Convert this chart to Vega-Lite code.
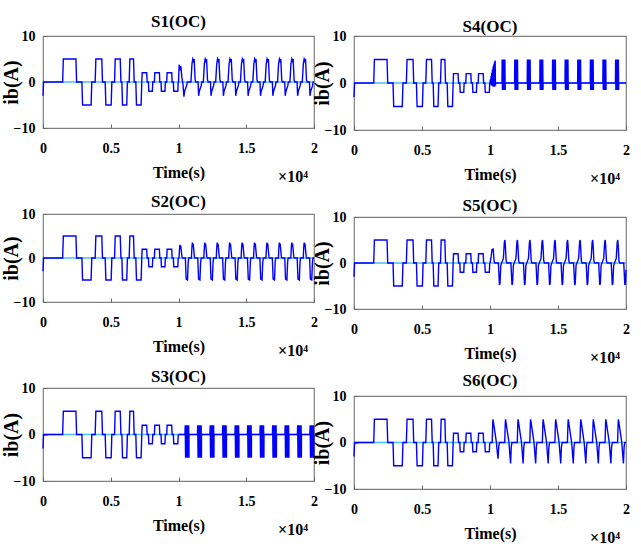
{
"$schema":"https://vega.github.io/schema/vega-lite/v6.json",
"background":"white",
"padding":{"left":0,"top":12,"right":0,"bottom":0},
"datasets":{
"common":[{"t":0,"v":-3},{"t":40,"v":0},{"t":1450,"v":0},{"t":1500,"v":5},{"t":2430,"v":5},{"t":2480,"v":0},{"t":2870,"v":0},{"t":2920,"v":-5},{"t":3550,"v":-5},{"t":3600,"v":0},{"t":3850,"v":0},{"t":3900,"v":5},{"t":4340,"v":5},{"t":4390,"v":0},{"t":4590,"v":0},{"t":4640,"v":-5},{"t":5030,"v":-5},{"t":5080,"v":0},{"t":5280,"v":0},{"t":5330,"v":5},{"t":5700,"v":5},{"t":5750,"v":0},{"t":5820,"v":0},{"t":5870,"v":-5},{"t":6180,"v":-5},{"t":6230,"v":0},{"t":6360,"v":0},{"t":6410,"v":5},{"t":6680,"v":5},{"t":6730,"v":0},{"t":6850,"v":0},{"t":6900,"v":-5},{"t":7240,"v":-5},{"t":7290,"v":0},{"t":7320,"v":2},{"t":7650,"v":2},{"t":7690,"v":0},{"t":7780,"v":0},{"t":7810,"v":-2},{"t":8070,"v":-2},{"t":8100,"v":0},{"t":8220,"v":0},{"t":8250,"v":2},{"t":8590,"v":2},{"t":8620,"v":0},{"t":8710,"v":0},{"t":8740,"v":-2},{"t":9000,"v":-2},{"t":9030,"v":0},{"t":9130,"v":0},{"t":9160,"v":2},{"t":9500,"v":2},{"t":9530,"v":0},{"t":9620,"v":0},{"t":9650,"v":-2},{"t":9950,"v":-2},{"t":9980,"v":0}],
"s1":[{"t":10000,"v":0},{"t":10050,"v":3.8},{"t":10110,"v":2.5},{"t":10170,"v":3.5},{"t":10250,"v":1},{"t":10330,"v":-0.5},{"t":10400,"v":-3.2},{"t":10450,"v":-2},{"t":10600,"v":-0.8},{"t":10650,"v":0},
{"t":10917,"v":0},{"t":10997,"v":4},{"t":11057,"v":5},{"t":11117,"v":4.5},{"t":11157,"v":5},{"t":11227,"v":0.5},{"t":11277,"v":0},{"t":11447,"v":0},{"t":11487,"v":-3},{"t":11537,"v":-2},{"t":11677,"v":-0.8},{"t":11717,"v":0},
{"t":11830,"v":0},{"t":11910,"v":4},{"t":11970,"v":5},{"t":12030,"v":4.5},{"t":12070,"v":5},{"t":12140,"v":0.5},{"t":12190,"v":0},{"t":12360,"v":0},{"t":12400,"v":-3},{"t":12450,"v":-2},{"t":12590,"v":-0.8},{"t":12630,"v":0},
{"t":12743,"v":0},{"t":12823,"v":4},{"t":12883,"v":5},{"t":12943,"v":4.5},{"t":12983,"v":5},{"t":13053,"v":0.5},{"t":13103,"v":0},{"t":13273,"v":0},{"t":13313,"v":-3},{"t":13363,"v":-2},{"t":13503,"v":-0.8},{"t":13543,"v":0},
{"t":13656,"v":0},{"t":13736,"v":4},{"t":13796,"v":5},{"t":13856,"v":4.5},{"t":13896,"v":5},{"t":13966,"v":0.5},{"t":14016,"v":0},{"t":14186,"v":0},{"t":14226,"v":-3},{"t":14276,"v":-2},{"t":14416,"v":-0.8},{"t":14456,"v":0},
{"t":14569,"v":0},{"t":14649,"v":4},{"t":14709,"v":5},{"t":14769,"v":4.5},{"t":14809,"v":5},{"t":14879,"v":0.5},{"t":14929,"v":0},{"t":15099,"v":0},{"t":15139,"v":-3},{"t":15189,"v":-2},{"t":15329,"v":-0.8},{"t":15369,"v":0},
{"t":15482,"v":0},{"t":15562,"v":4},{"t":15622,"v":5},{"t":15682,"v":4.5},{"t":15722,"v":5},{"t":15792,"v":0.5},{"t":15842,"v":0},{"t":16012,"v":0},{"t":16052,"v":-3},{"t":16102,"v":-2},{"t":16242,"v":-0.8},{"t":16282,"v":0},
{"t":16395,"v":0},{"t":16475,"v":4},{"t":16535,"v":5},{"t":16595,"v":4.5},{"t":16635,"v":5},{"t":16705,"v":0.5},{"t":16755,"v":0},{"t":16925,"v":0},{"t":16965,"v":-3},{"t":17015,"v":-2},{"t":17155,"v":-0.8},{"t":17195,"v":0},
{"t":17308,"v":0},{"t":17388,"v":4},{"t":17448,"v":5},{"t":17508,"v":4.5},{"t":17548,"v":5},{"t":17618,"v":0.5},{"t":17668,"v":0},{"t":17838,"v":0},{"t":17878,"v":-3},{"t":17928,"v":-2},{"t":18068,"v":-0.8},{"t":18108,"v":0},
{"t":18221,"v":0},{"t":18301,"v":4},{"t":18361,"v":5},{"t":18421,"v":4.5},{"t":18461,"v":5},{"t":18531,"v":0.5},{"t":18581,"v":0},{"t":18751,"v":0},{"t":18791,"v":-3},{"t":18841,"v":-2},{"t":18981,"v":-0.8},{"t":19021,"v":0},
{"t":19134,"v":0},{"t":19214,"v":4},{"t":19274,"v":5},{"t":19334,"v":4.5},{"t":19374,"v":5},{"t":19444,"v":0.5},{"t":19494,"v":0},{"t":19664,"v":0},{"t":19704,"v":-3},{"t":19754,"v":-2},{"t":19894,"v":-0.8},{"t":19934,"v":0},{"t":20000,"v":0}],
"s2":[{"t":10000,"v":0},
{"t":10035,"v":0},{"t":10075,"v":2},{"t":10105,"v":3},{"t":10135,"v":2.4},{"t":10165,"v":2.8},{"t":10255,"v":0.3},{"t":10295,"v":0},{"t":10505,"v":0},{"t":10565,"v":-4.8},{"t":10665,"v":-5},{"t":10715,"v":-1},{"t":10755,"v":0},
{"t":10952,"v":0},{"t":10992,"v":2.5},{"t":11022,"v":3.5},{"t":11052,"v":2.8},{"t":11082,"v":3.3},{"t":11172,"v":0.3},{"t":11212,"v":0},{"t":11422,"v":0},{"t":11482,"v":-4.8},{"t":11582,"v":-5},{"t":11632,"v":-1},{"t":11672,"v":0},
{"t":11869,"v":0},{"t":11909,"v":2.5},{"t":11939,"v":3.5},{"t":11969,"v":2.8},{"t":11999,"v":3.3},{"t":12089,"v":0.3},{"t":12129,"v":0},{"t":12339,"v":0},{"t":12399,"v":-4.8},{"t":12499,"v":-5},{"t":12549,"v":-1},{"t":12589,"v":0},
{"t":12786,"v":0},{"t":12826,"v":2.5},{"t":12856,"v":3.5},{"t":12886,"v":2.8},{"t":12916,"v":3.3},{"t":13006,"v":0.3},{"t":13046,"v":0},{"t":13256,"v":0},{"t":13316,"v":-4.8},{"t":13416,"v":-5},{"t":13466,"v":-1},{"t":13506,"v":0},
{"t":13703,"v":0},{"t":13743,"v":2.5},{"t":13773,"v":3.5},{"t":13803,"v":2.8},{"t":13833,"v":3.3},{"t":13923,"v":0.3},{"t":13963,"v":0},{"t":14173,"v":0},{"t":14233,"v":-4.8},{"t":14333,"v":-5},{"t":14383,"v":-1},{"t":14423,"v":0},
{"t":14620,"v":0},{"t":14660,"v":2.5},{"t":14690,"v":3.5},{"t":14720,"v":2.8},{"t":14750,"v":3.3},{"t":14840,"v":0.3},{"t":14880,"v":0},{"t":15090,"v":0},{"t":15150,"v":-4.8},{"t":15250,"v":-5},{"t":15300,"v":-1},{"t":15340,"v":0},
{"t":15537,"v":0},{"t":15577,"v":2.5},{"t":15607,"v":3.5},{"t":15637,"v":2.8},{"t":15667,"v":3.3},{"t":15757,"v":0.3},{"t":15797,"v":0},{"t":16007,"v":0},{"t":16067,"v":-4.8},{"t":16167,"v":-5},{"t":16217,"v":-1},{"t":16257,"v":0},
{"t":16454,"v":0},{"t":16494,"v":2.5},{"t":16524,"v":3.5},{"t":16554,"v":2.8},{"t":16584,"v":3.3},{"t":16674,"v":0.3},{"t":16714,"v":0},{"t":16924,"v":0},{"t":16984,"v":-4.8},{"t":17084,"v":-5},{"t":17134,"v":-1},{"t":17174,"v":0},
{"t":17371,"v":0},{"t":17411,"v":2.5},{"t":17441,"v":3.5},{"t":17471,"v":2.8},{"t":17501,"v":3.3},{"t":17591,"v":0.3},{"t":17631,"v":0},{"t":17841,"v":0},{"t":17901,"v":-4.8},{"t":18001,"v":-5},{"t":18051,"v":-1},{"t":18091,"v":0},
{"t":18288,"v":0},{"t":18328,"v":2.5},{"t":18358,"v":3.5},{"t":18388,"v":2.8},{"t":18418,"v":3.3},{"t":18508,"v":0.3},{"t":18548,"v":0},{"t":18758,"v":0},{"t":18818,"v":-4.8},{"t":18918,"v":-5},{"t":18968,"v":-1},{"t":19008,"v":0},
{"t":19205,"v":0},{"t":19245,"v":2.5},{"t":19275,"v":3.5},{"t":19305,"v":2.8},{"t":19335,"v":3.3},{"t":19425,"v":0.3},{"t":19465,"v":0},{"t":19675,"v":0},{"t":19735,"v":-4.8},{"t":19835,"v":-5},{"t":19885,"v":-1},{"t":19925,"v":0},{"t":20000,"v":0}],
"s3":[{"t":10000,"v":0},
{"t":10477,"v":0},{"t":10497,"v":2},{"t":10522,"v":-5},{"t":10547,"v":2},{"t":10572,"v":-5},{"t":10597,"v":2},{"t":10622,"v":-5},{"t":10647,"v":2},{"t":10672,"v":-5},{"t":10697,"v":2},{"t":10722,"v":-5},{"t":10747,"v":2},{"t":10772,"v":-5},{"t":10777,"v":0},
{"t":11399,"v":0},{"t":11419,"v":2},{"t":11444,"v":-5},{"t":11469,"v":2},{"t":11494,"v":-5},{"t":11519,"v":2},{"t":11544,"v":-5},{"t":11569,"v":2},{"t":11594,"v":-5},{"t":11619,"v":2},{"t":11644,"v":-5},{"t":11669,"v":2},{"t":11694,"v":-5},{"t":11699,"v":0},
{"t":12321,"v":0},{"t":12341,"v":2},{"t":12366,"v":-5},{"t":12391,"v":2},{"t":12416,"v":-5},{"t":12441,"v":2},{"t":12466,"v":-5},{"t":12491,"v":2},{"t":12516,"v":-5},{"t":12541,"v":2},{"t":12566,"v":-5},{"t":12591,"v":2},{"t":12616,"v":-5},{"t":12621,"v":0},
{"t":13243,"v":0},{"t":13263,"v":2},{"t":13288,"v":-5},{"t":13313,"v":2},{"t":13338,"v":-5},{"t":13363,"v":2},{"t":13388,"v":-5},{"t":13413,"v":2},{"t":13438,"v":-5},{"t":13463,"v":2},{"t":13488,"v":-5},{"t":13513,"v":2},{"t":13538,"v":-5},{"t":13543,"v":0},
{"t":14165,"v":0},{"t":14185,"v":2},{"t":14210,"v":-5},{"t":14235,"v":2},{"t":14260,"v":-5},{"t":14285,"v":2},{"t":14310,"v":-5},{"t":14335,"v":2},{"t":14360,"v":-5},{"t":14385,"v":2},{"t":14410,"v":-5},{"t":14435,"v":2},{"t":14460,"v":-5},{"t":14465,"v":0},
{"t":15087,"v":0},{"t":15107,"v":2},{"t":15132,"v":-5},{"t":15157,"v":2},{"t":15182,"v":-5},{"t":15207,"v":2},{"t":15232,"v":-5},{"t":15257,"v":2},{"t":15282,"v":-5},{"t":15307,"v":2},{"t":15332,"v":-5},{"t":15357,"v":2},{"t":15382,"v":-5},{"t":15387,"v":0},
{"t":16009,"v":0},{"t":16029,"v":2},{"t":16054,"v":-5},{"t":16079,"v":2},{"t":16104,"v":-5},{"t":16129,"v":2},{"t":16154,"v":-5},{"t":16179,"v":2},{"t":16204,"v":-5},{"t":16229,"v":2},{"t":16254,"v":-5},{"t":16279,"v":2},{"t":16304,"v":-5},{"t":16309,"v":0},
{"t":16931,"v":0},{"t":16951,"v":2},{"t":16976,"v":-5},{"t":17001,"v":2},{"t":17026,"v":-5},{"t":17051,"v":2},{"t":17076,"v":-5},{"t":17101,"v":2},{"t":17126,"v":-5},{"t":17151,"v":2},{"t":17176,"v":-5},{"t":17201,"v":2},{"t":17226,"v":-5},{"t":17231,"v":0},
{"t":17853,"v":0},{"t":17873,"v":2},{"t":17898,"v":-5},{"t":17923,"v":2},{"t":17948,"v":-5},{"t":17973,"v":2},{"t":17998,"v":-5},{"t":18023,"v":2},{"t":18048,"v":-5},{"t":18073,"v":2},{"t":18098,"v":-5},{"t":18123,"v":2},{"t":18148,"v":-5},{"t":18153,"v":0},
{"t":18775,"v":0},{"t":18795,"v":2},{"t":18820,"v":-5},{"t":18845,"v":2},{"t":18870,"v":-5},{"t":18895,"v":2},{"t":18920,"v":-5},{"t":18945,"v":2},{"t":18970,"v":-5},{"t":18995,"v":2},{"t":19020,"v":-5},{"t":19045,"v":2},{"t":19070,"v":-5},{"t":19075,"v":0},
{"t":19697,"v":0},{"t":19717,"v":2},{"t":19742,"v":-5},{"t":19767,"v":2},{"t":19792,"v":-5},{"t":19817,"v":2},{"t":19842,"v":-5},{"t":19867,"v":2},{"t":19892,"v":-5},{"t":19917,"v":2},{"t":19942,"v":-5},{"t":19967,"v":2},{"t":19992,"v":-5},{"t":19997,"v":0},{"t":20000,"v":0}],
"s4":[{"t":10000,"v":0},{"t":10030,"v":0.8},{"t":10050,"v":-0.3},{"t":10080,"v":1.5},{"t":10100,"v":-0.5},{"t":10130,"v":2.2},{"t":10150,"v":-0.6},{"t":10180,"v":2.9},{"t":10200,"v":-0.7},{"t":10230,"v":3.5},{"t":10250,"v":-0.8},{"t":10280,"v":4},{"t":10300,"v":-0.8},{"t":10330,"v":4.5},{"t":10350,"v":-0.8},{"t":10380,"v":4.8},{"t":10400,"v":-0.5},{"t":10430,"v":0},
{"t":10880,"v":0},{"t":10895,"v":5},{"t":10915,"v":-1.5},{"t":10935,"v":5},{"t":10955,"v":-1.5},{"t":10975,"v":5},{"t":10995,"v":-1.5},{"t":11015,"v":5},{"t":11035,"v":-1.5},{"t":11055,"v":5},{"t":11075,"v":-1.5},{"t":11095,"v":5},{"t":11115,"v":-1.5},{"t":11120,"v":0},
{"t":11807,"v":0},{"t":11822,"v":5},{"t":11842,"v":-1.5},{"t":11862,"v":5},{"t":11882,"v":-1.5},{"t":11902,"v":5},{"t":11922,"v":-1.5},{"t":11942,"v":5},{"t":11962,"v":-1.5},{"t":11982,"v":5},{"t":12002,"v":-1.5},{"t":12022,"v":5},{"t":12042,"v":-1.5},{"t":12047,"v":0},
{"t":12734,"v":0},{"t":12749,"v":5},{"t":12769,"v":-1.5},{"t":12789,"v":5},{"t":12809,"v":-1.5},{"t":12829,"v":5},{"t":12849,"v":-1.5},{"t":12869,"v":5},{"t":12889,"v":-1.5},{"t":12909,"v":5},{"t":12929,"v":-1.5},{"t":12949,"v":5},{"t":12969,"v":-1.5},{"t":12974,"v":0},
{"t":13661,"v":0},{"t":13676,"v":5},{"t":13696,"v":-1.5},{"t":13716,"v":5},{"t":13736,"v":-1.5},{"t":13756,"v":5},{"t":13776,"v":-1.5},{"t":13796,"v":5},{"t":13816,"v":-1.5},{"t":13836,"v":5},{"t":13856,"v":-1.5},{"t":13876,"v":5},{"t":13896,"v":-1.5},{"t":13901,"v":0},
{"t":14588,"v":0},{"t":14603,"v":5},{"t":14623,"v":-1.5},{"t":14643,"v":5},{"t":14663,"v":-1.5},{"t":14683,"v":5},{"t":14703,"v":-1.5},{"t":14723,"v":5},{"t":14743,"v":-1.5},{"t":14763,"v":5},{"t":14783,"v":-1.5},{"t":14803,"v":5},{"t":14823,"v":-1.5},{"t":14828,"v":0},
{"t":15515,"v":0},{"t":15530,"v":5},{"t":15550,"v":-1.5},{"t":15570,"v":5},{"t":15590,"v":-1.5},{"t":15610,"v":5},{"t":15630,"v":-1.5},{"t":15650,"v":5},{"t":15670,"v":-1.5},{"t":15690,"v":5},{"t":15710,"v":-1.5},{"t":15730,"v":5},{"t":15750,"v":-1.5},{"t":15755,"v":0},
{"t":16442,"v":0},{"t":16457,"v":5},{"t":16477,"v":-1.5},{"t":16497,"v":5},{"t":16517,"v":-1.5},{"t":16537,"v":5},{"t":16557,"v":-1.5},{"t":16577,"v":5},{"t":16597,"v":-1.5},{"t":16617,"v":5},{"t":16637,"v":-1.5},{"t":16657,"v":5},{"t":16677,"v":-1.5},{"t":16682,"v":0},
{"t":17369,"v":0},{"t":17384,"v":5},{"t":17404,"v":-1.5},{"t":17424,"v":5},{"t":17444,"v":-1.5},{"t":17464,"v":5},{"t":17484,"v":-1.5},{"t":17504,"v":5},{"t":17524,"v":-1.5},{"t":17544,"v":5},{"t":17564,"v":-1.5},{"t":17584,"v":5},{"t":17604,"v":-1.5},{"t":17609,"v":0},
{"t":18296,"v":0},{"t":18311,"v":5},{"t":18331,"v":-1.5},{"t":18351,"v":5},{"t":18371,"v":-1.5},{"t":18391,"v":5},{"t":18411,"v":-1.5},{"t":18431,"v":5},{"t":18451,"v":-1.5},{"t":18471,"v":5},{"t":18491,"v":-1.5},{"t":18511,"v":5},{"t":18531,"v":-1.5},{"t":18536,"v":0},
{"t":19223,"v":0},{"t":19238,"v":5},{"t":19258,"v":-1.5},{"t":19278,"v":5},{"t":19298,"v":-1.5},{"t":19318,"v":5},{"t":19338,"v":-1.5},{"t":19358,"v":5},{"t":19378,"v":-1.5},{"t":19398,"v":5},{"t":19418,"v":-1.5},{"t":19438,"v":5},{"t":19458,"v":-1.5},{"t":19463,"v":0},{"t":20000,"v":0}],
"s5":[{"t":10000,"v":0},{"t":10080,"v":1.2},{"t":10150,"v":3},{"t":10190,"v":2.6},{"t":10230,"v":3.2},{"t":10300,"v":0.5},{"t":10350,"v":0},
{"t":10615,"v":0},{"t":10695,"v":-4.8},{"t":10735,"v":-4.5},{"t":10795,"v":-0.5},{"t":10895,"v":0.3},{"t":10985,"v":1},{"t":11055,"v":4.5},{"t":11095,"v":5},{"t":11125,"v":4},{"t":11185,"v":0.5},{"t":11235,"v":0},
{"t":11537,"v":0},{"t":11617,"v":-4.8},{"t":11657,"v":-4.5},{"t":11717,"v":-0.5},{"t":11817,"v":0.3},{"t":11907,"v":1},{"t":11977,"v":4.5},{"t":12017,"v":5},{"t":12047,"v":4},{"t":12107,"v":0.5},{"t":12157,"v":0},
{"t":12459,"v":0},{"t":12539,"v":-4.8},{"t":12579,"v":-4.5},{"t":12639,"v":-0.5},{"t":12739,"v":0.3},{"t":12829,"v":1},{"t":12899,"v":4.5},{"t":12939,"v":5},{"t":12969,"v":4},{"t":13029,"v":0.5},{"t":13079,"v":0},
{"t":13381,"v":0},{"t":13461,"v":-4.8},{"t":13501,"v":-4.5},{"t":13561,"v":-0.5},{"t":13661,"v":0.3},{"t":13751,"v":1},{"t":13821,"v":4.5},{"t":13861,"v":5},{"t":13891,"v":4},{"t":13951,"v":0.5},{"t":14001,"v":0},
{"t":14303,"v":0},{"t":14383,"v":-4.8},{"t":14423,"v":-4.5},{"t":14483,"v":-0.5},{"t":14583,"v":0.3},{"t":14673,"v":1},{"t":14743,"v":4.5},{"t":14783,"v":5},{"t":14813,"v":4},{"t":14873,"v":0.5},{"t":14923,"v":0},
{"t":15225,"v":0},{"t":15305,"v":-4.8},{"t":15345,"v":-4.5},{"t":15405,"v":-0.5},{"t":15505,"v":0.3},{"t":15595,"v":1},{"t":15665,"v":4.5},{"t":15705,"v":5},{"t":15735,"v":4},{"t":15795,"v":0.5},{"t":15845,"v":0},
{"t":16147,"v":0},{"t":16227,"v":-4.8},{"t":16267,"v":-4.5},{"t":16327,"v":-0.5},{"t":16427,"v":0.3},{"t":16517,"v":1},{"t":16587,"v":4.5},{"t":16627,"v":5},{"t":16657,"v":4},{"t":16717,"v":0.5},{"t":16767,"v":0},
{"t":17069,"v":0},{"t":17149,"v":-4.8},{"t":17189,"v":-4.5},{"t":17249,"v":-0.5},{"t":17349,"v":0.3},{"t":17439,"v":1},{"t":17509,"v":4.5},{"t":17549,"v":5},{"t":17579,"v":4},{"t":17639,"v":0.5},{"t":17689,"v":0},
{"t":17991,"v":0},{"t":18071,"v":-4.8},{"t":18111,"v":-4.5},{"t":18171,"v":-0.5},{"t":18271,"v":0.3},{"t":18361,"v":1},{"t":18431,"v":4.5},{"t":18471,"v":5},{"t":18501,"v":4},{"t":18561,"v":0.5},{"t":18611,"v":0},
{"t":18913,"v":0},{"t":18993,"v":-4.8},{"t":19033,"v":-4.5},{"t":19093,"v":-0.5},{"t":19193,"v":0.3},{"t":19283,"v":1},{"t":19353,"v":4.5},{"t":19393,"v":5},{"t":19423,"v":4},{"t":19483,"v":0.5},{"t":19533,"v":0},
{"t":19835,"v":0},{"t":19915,"v":-4.8},{"t":19955,"v":-4.5},{"t":20000,"v":-1.5}],
"s6":[{"t":10000,"v":0},
{"t":10161,"v":0},{"t":10201,"v":4},{"t":10221,"v":5},{"t":10261,"v":4.2},{"t":10371,"v":2},{"t":10471,"v":0},{"t":10551,"v":-2.5},{"t":10591,"v":-3.5},{"t":10641,"v":-1},{"t":10691,"v":0},
{"t":11083,"v":0},{"t":11123,"v":4},{"t":11143,"v":5},{"t":11183,"v":4.2},{"t":11293,"v":2},{"t":11393,"v":0},{"t":11473,"v":-3},{"t":11513,"v":-4.5},{"t":11563,"v":-1},{"t":11613,"v":0},
{"t":12005,"v":0},{"t":12045,"v":4},{"t":12065,"v":5},{"t":12105,"v":4.2},{"t":12215,"v":2},{"t":12315,"v":0},{"t":12395,"v":-3},{"t":12435,"v":-4.5},{"t":12485,"v":-1},{"t":12535,"v":0},
{"t":12927,"v":0},{"t":12967,"v":4},{"t":12987,"v":5},{"t":13027,"v":4.2},{"t":13137,"v":2},{"t":13237,"v":0},{"t":13317,"v":-3},{"t":13357,"v":-4.5},{"t":13407,"v":-1},{"t":13457,"v":0},
{"t":13849,"v":0},{"t":13889,"v":4},{"t":13909,"v":5},{"t":13949,"v":4.2},{"t":14059,"v":2},{"t":14159,"v":0},{"t":14239,"v":-3},{"t":14279,"v":-4.5},{"t":14329,"v":-1},{"t":14379,"v":0},
{"t":14771,"v":0},{"t":14811,"v":4},{"t":14831,"v":5},{"t":14871,"v":4.2},{"t":14981,"v":2},{"t":15081,"v":0},{"t":15161,"v":-3},{"t":15201,"v":-4.5},{"t":15251,"v":-1},{"t":15301,"v":0},
{"t":15693,"v":0},{"t":15733,"v":4},{"t":15753,"v":5},{"t":15793,"v":4.2},{"t":15903,"v":2},{"t":16003,"v":0},{"t":16083,"v":-3},{"t":16123,"v":-4.5},{"t":16173,"v":-1},{"t":16223,"v":0},
{"t":16615,"v":0},{"t":16655,"v":4},{"t":16675,"v":5},{"t":16715,"v":4.2},{"t":16825,"v":2},{"t":16925,"v":0},{"t":17005,"v":-3},{"t":17045,"v":-4.5},{"t":17095,"v":-1},{"t":17145,"v":0},
{"t":17537,"v":0},{"t":17577,"v":4},{"t":17597,"v":5},{"t":17637,"v":4.2},{"t":17747,"v":2},{"t":17847,"v":0},{"t":17927,"v":-3},{"t":17967,"v":-4.5},{"t":18017,"v":-1},{"t":18067,"v":0},
{"t":18459,"v":0},{"t":18499,"v":4},{"t":18519,"v":5},{"t":18559,"v":4.2},{"t":18669,"v":2},{"t":18769,"v":0},{"t":18849,"v":-3},{"t":18889,"v":-4.5},{"t":18939,"v":-1},{"t":18989,"v":0},
{"t":19381,"v":0},{"t":19421,"v":4},{"t":19441,"v":5},{"t":19481,"v":4.2},{"t":19591,"v":2},{"t":19691,"v":0},{"t":19771,"v":-3},{"t":19811,"v":-4.5},{"t":19861,"v":-1},{"t":19911,"v":0},{"t":20000,"v":0}]
},
"spacing":-8,
"hconcat":[
{"spacing":86,"bounds":"flush","vconcat":[
{"width":271,"height":92,"title":{"text":"S1(OC)","offset":-2},"layer":[
{"data":{"values":[{}]},"mark":{"type":"rule","color":"#4DBEEE","strokeWidth":1.5},"encoding":{"y":{"datum":0,"type":"quantitative"}}},
{"data":{"name":"common"},"mark":{"type":"line","color":"#0000FF","strokeWidth":1.4},"encoding":{"x":{"field":"t","type":"quantitative","scale":{"domain":[0,20000],"nice":false},"axis":{"values":[0,5000,10000,15000,20000],"labelExpr":"datum.value / 10000","labelFlush":false,"title":"Time(s)"}},"y":{"field":"v","type":"quantitative","scale":{"domain":[-10,10],"nice":false},"axis":{"values":[-10,0,10],"title":"ib(A)","titleX":-22}}}},
{"data":{"name":"s1"},"mark":{"type":"line","color":"#0000FF","strokeWidth":1.4},"encoding":{"x":{"field":"t","type":"quantitative","scale":{"domain":[0,20000],"nice":false},"axis":{"values":[0,5000,10000,15000,20000],"labelExpr":"datum.value / 10000","labelFlush":false,"title":"Time(s)"}},"y":{"field":"v","type":"quantitative","scale":{"domain":[-10,10],"nice":false},"axis":{"values":[-10,0,10],"title":"ib(A)","titleX":-22}}}},
{"data":{"values":[{"label":"×10⁴"}]},"mark":{"type":"text","align":"right","baseline":"alphabetic","dx":-6,"dy":54,"font":"Liberation Serif","fontWeight":"bold","fontSize":16},"encoding":{"x":{"datum":20000,"type":"quantitative"},"y":{"datum":-10,"type":"quantitative"},"text":{"field":"label"}}}
]},
{"width":271,"height":88,"title":{"text":"S2(OC)","offset":-4},"layer":[
{"data":{"values":[{}]},"mark":{"type":"rule","color":"#4DBEEE","strokeWidth":1.5},"encoding":{"y":{"datum":0,"type":"quantitative"}}},
{"data":{"name":"common"},"mark":{"type":"line","color":"#0000FF","strokeWidth":1.4},"encoding":{"x":{"field":"t","type":"quantitative","scale":{"domain":[0,20000],"nice":false},"axis":{"values":[0,5000,10000,15000,20000],"labelExpr":"datum.value / 10000","labelFlush":false,"title":"Time(s)"}},"y":{"field":"v","type":"quantitative","scale":{"domain":[-10,10],"nice":false},"axis":{"values":[-10,0,10],"title":"ib(A)","titleX":-22}}}},
{"data":{"name":"s2"},"mark":{"type":"line","color":"#0000FF","strokeWidth":1.4},"encoding":{"x":{"field":"t","type":"quantitative","scale":{"domain":[0,20000],"nice":false},"axis":{"values":[0,5000,10000,15000,20000],"labelExpr":"datum.value / 10000","labelFlush":false,"title":"Time(s)"}},"y":{"field":"v","type":"quantitative","scale":{"domain":[-10,10],"nice":false},"axis":{"values":[-10,0,10],"title":"ib(A)","titleX":-22}}}},
{"data":{"values":[{"label":"×10⁴"}]},"mark":{"type":"text","align":"right","baseline":"alphabetic","dx":-6,"dy":54,"font":"Liberation Serif","fontWeight":"bold","fontSize":16},"encoding":{"x":{"datum":20000,"type":"quantitative"},"y":{"datum":-10,"type":"quantitative"},"text":{"field":"label"}}}
]},
{"width":271,"height":93,"title":{"text":"S3(OC)","offset":-5},"layer":[
{"data":{"values":[{}]},"mark":{"type":"rule","color":"#4DBEEE","strokeWidth":1.5},"encoding":{"y":{"datum":0,"type":"quantitative"}}},
{"data":{"name":"common"},"mark":{"type":"line","color":"#0000FF","strokeWidth":1.4},"encoding":{"x":{"field":"t","type":"quantitative","scale":{"domain":[0,20000],"nice":false},"axis":{"values":[0,5000,10000,15000,20000],"labelExpr":"datum.value / 10000","labelFlush":false,"title":"Time(s)"}},"y":{"field":"v","type":"quantitative","scale":{"domain":[-10,10],"nice":false},"axis":{"values":[-10,0,10],"title":"ib(A)","titleX":-22}}}},
{"data":{"name":"s3"},"mark":{"type":"line","color":"#0000FF","strokeWidth":1.4},"encoding":{"x":{"field":"t","type":"quantitative","scale":{"domain":[0,20000],"nice":false},"axis":{"values":[0,5000,10000,15000,20000],"labelExpr":"datum.value / 10000","labelFlush":false,"title":"Time(s)"}},"y":{"field":"v","type":"quantitative","scale":{"domain":[-10,10],"nice":false},"axis":{"values":[-10,0,10],"title":"ib(A)","titleX":-22}}}},
{"data":{"values":[{"label":"×10⁴"}]},"mark":{"type":"text","align":"right","baseline":"alphabetic","dx":-6,"dy":54,"font":"Liberation Serif","fontWeight":"bold","fontSize":16},"encoding":{"x":{"datum":20000,"type":"quantitative"},"y":{"datum":-10,"type":"quantitative"},"text":{"field":"label"}}}
]}
]},
{"spacing":87,"bounds":"flush","vconcat":[
{"width":272,"height":94,"title":{"text":"S4(OC)","offset":-7},"layer":[
{"data":{"values":[{}]},"mark":{"type":"rule","color":"#4DBEEE","strokeWidth":1.5},"encoding":{"y":{"datum":0,"type":"quantitative"}}},
{"data":{"name":"common"},"mark":{"type":"line","color":"#0000FF","strokeWidth":1.4},"encoding":{"x":{"field":"t","type":"quantitative","scale":{"domain":[0,20000],"nice":false},"axis":{"values":[0,5000,10000,15000,20000],"labelExpr":"datum.value / 10000","labelFlush":false,"title":"Time(s)"}},"y":{"field":"v","type":"quantitative","scale":{"domain":[-10,10],"nice":false},"axis":{"values":[-10,0,10],"title":"ib(A)","titleX":-22}}}},
{"data":{"name":"s4"},"mark":{"type":"line","color":"#0000FF","strokeWidth":1.4},"encoding":{"x":{"field":"t","type":"quantitative","scale":{"domain":[0,20000],"nice":false},"axis":{"values":[0,5000,10000,15000,20000],"labelExpr":"datum.value / 10000","labelFlush":false,"title":"Time(s)"}},"y":{"field":"v","type":"quantitative","scale":{"domain":[-10,10],"nice":false},"axis":{"values":[-10,0,10],"title":"ib(A)","titleX":-22}}}},
{"data":{"values":[{"label":"×10⁴"}]},"mark":{"type":"text","align":"right","baseline":"alphabetic","dx":-6,"dy":54,"font":"Liberation Serif","fontWeight":"bold","fontSize":16},"encoding":{"x":{"datum":20000,"type":"quantitative"},"y":{"datum":-10,"type":"quantitative"},"text":{"field":"label"}}}
]},
{"width":272,"height":92,"title":{"text":"S5(OC)","offset":-5},"layer":[
{"data":{"values":[{}]},"mark":{"type":"rule","color":"#4DBEEE","strokeWidth":1.5},"encoding":{"y":{"datum":0,"type":"quantitative"}}},
{"data":{"name":"common"},"mark":{"type":"line","color":"#0000FF","strokeWidth":1.4},"encoding":{"x":{"field":"t","type":"quantitative","scale":{"domain":[0,20000],"nice":false},"axis":{"values":[0,5000,10000,15000,20000],"labelExpr":"datum.value / 10000","labelFlush":false,"title":"Time(s)"}},"y":{"field":"v","type":"quantitative","scale":{"domain":[-10,10],"nice":false},"axis":{"values":[-10,0,10],"title":"ib(A)","titleX":-22}}}},
{"data":{"name":"s5"},"mark":{"type":"line","color":"#0000FF","strokeWidth":1.4},"encoding":{"x":{"field":"t","type":"quantitative","scale":{"domain":[0,20000],"nice":false},"axis":{"values":[0,5000,10000,15000,20000],"labelExpr":"datum.value / 10000","labelFlush":false,"title":"Time(s)"}},"y":{"field":"v","type":"quantitative","scale":{"domain":[-10,10],"nice":false},"axis":{"values":[-10,0,10],"title":"ib(A)","titleX":-22}}}},
{"data":{"values":[{"label":"×10⁴"}]},"mark":{"type":"text","align":"right","baseline":"alphabetic","dx":-6,"dy":54,"font":"Liberation Serif","fontWeight":"bold","fontSize":16},"encoding":{"x":{"datum":20000,"type":"quantitative"},"y":{"datum":-10,"type":"quantitative"},"text":{"field":"label"}}}
]},
{"width":272,"height":93,"title":{"text":"S6(OC)","offset":-1},"layer":[
{"data":{"values":[{}]},"mark":{"type":"rule","color":"#4DBEEE","strokeWidth":1.5},"encoding":{"y":{"datum":0,"type":"quantitative"}}},
{"data":{"name":"common"},"mark":{"type":"line","color":"#0000FF","strokeWidth":1.4},"encoding":{"x":{"field":"t","type":"quantitative","scale":{"domain":[0,20000],"nice":false},"axis":{"values":[0,5000,10000,15000,20000],"labelExpr":"datum.value / 10000","labelFlush":false,"title":"Time(s)"}},"y":{"field":"v","type":"quantitative","scale":{"domain":[-10,10],"nice":false},"axis":{"values":[-10,0,10],"title":"ib(A)","titleX":-22}}}},
{"data":{"name":"s6"},"mark":{"type":"line","color":"#0000FF","strokeWidth":1.4},"encoding":{"x":{"field":"t","type":"quantitative","scale":{"domain":[0,20000],"nice":false},"axis":{"values":[0,5000,10000,15000,20000],"labelExpr":"datum.value / 10000","labelFlush":false,"title":"Time(s)"}},"y":{"field":"v","type":"quantitative","scale":{"domain":[-10,10],"nice":false},"axis":{"values":[-10,0,10],"title":"ib(A)","titleX":-22}}}},
{"data":{"values":[{"label":"×10⁴"}]},"mark":{"type":"text","align":"right","baseline":"alphabetic","dx":-6,"dy":54,"font":"Liberation Serif","fontWeight":"bold","fontSize":16},"encoding":{"x":{"datum":20000,"type":"quantitative"},"y":{"datum":-10,"type":"quantitative"},"text":{"field":"label"}}}
]}
]}
],
"config":{
"view":{"stroke":"#808080","strokeWidth":1.2},
"axis":{"grid":false,"domain":false,"ticks":true,"tickSize":-4,"tickColor":"#666666","labelFont":"Liberation Serif","labelFontWeight":"bold","labelFontSize":14,"labelColor":"#000000","titleFont":"Liberation Serif","titleFontWeight":"bold","titleFontSize":15,"titleColor":"#000000"},
"axisX":{"labelPadding":17,"titlePadding":9,"titleFontSize":16},
"axisY":{"labelPadding":12,"titleFontSize":20},
"title":{"font":"Liberation Serif","fontWeight":"bold","fontSize":17,"color":"#000000"}
}
}
